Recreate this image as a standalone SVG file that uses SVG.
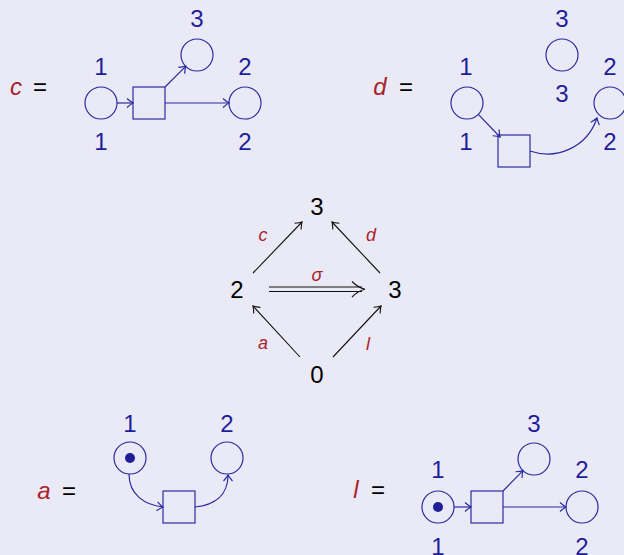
<svg xmlns="http://www.w3.org/2000/svg" width="624" height="555" viewBox="0 0 624 555">
<defs>
<style>
.bg{fill:#EAEAF6}
.pl{fill:none;stroke:#2A2AA0;stroke-width:1.2}
.tr{fill:none;stroke:#2A2AA0;stroke-width:1.2}
.tok{fill:#1E1E96}
.arc{fill:none;stroke:#2A2AA0;stroke-width:1.2}
.blk{fill:none;stroke:#111;stroke-width:1.1}
.num{font-family:"Liberation Sans",Arial,sans-serif;font-size:24px;fill:#1E1E9A;text-anchor:middle}
.big{font-family:"Liberation Sans",Arial,sans-serif;font-size:24px;fill:#000;text-anchor:middle}
.var{font-family:"Liberation Sans",Arial,sans-serif;font-size:24px;font-style:italic;fill:#A8232A;text-anchor:middle}
.eq{font-family:"Liberation Sans",Arial,sans-serif;font-size:24px;fill:#000;text-anchor:middle}
.sm{font-family:"Liberation Sans",Arial,sans-serif;font-size:18px;font-style:italic;fill:#A8232A;text-anchor:middle}
</style>
<marker id="ab" markerUnits="userSpaceOnUse" markerWidth="16" markerHeight="16" viewBox="-8 -8 16 16" refX="0" refY="0" orient="auto">
<path d="M-6,-4.5 Q-2,-1 0,0 Q-2,1 -6,4.5" fill="none" stroke="#2A2AA0" stroke-width="1.2"/>
</marker>
<marker id="ak" markerUnits="userSpaceOnUse" markerWidth="16" markerHeight="16" viewBox="-8 -8 16 16" refX="0" refY="0" orient="auto">
<path d="M-6,-4.5 Q-2,-1 0,0 Q-2,1 -6,4.5" fill="none" stroke="#111" stroke-width="1.1"/>
</marker>
</defs>
<rect class="bg" x="0" y="0" width="624" height="555"/>

<!-- c -->
<g id="net-c">
<text class="var" x="16" y="95">c</text>
<text class="eq" x="40" y="95">=</text>
<g id="c-p1"><circle class="pl" cx="101" cy="103" r="16"/><text class="num" x="101" y="75">1</text><text class="num" x="101" y="150">1</text></g>
<g id="c-t"><rect class="tr" x="133" y="87" width="32" height="32"/></g>
<g id="c-p3"><circle class="pl" cx="197" cy="55" r="16"/><text class="num" x="197" y="27">3</text></g>
<g id="c-p2"><circle class="pl" cx="245" cy="103" r="16"/><text class="num" x="245" y="75">2</text><text class="num" x="245" y="150">2</text></g>
<g id="c-arcs">
<line class="arc" x1="117" y1="103" x2="133" y2="103" marker-end="url(#ab)"/>
<line class="arc" x1="165" y1="87" x2="185.7" y2="66.3" marker-end="url(#ab)"/>
<line class="arc" x1="165" y1="103" x2="229" y2="103" marker-end="url(#ab)"/>
</g>
</g>

<!-- d -->
<g id="net-d">
<text class="var" x="380" y="95">d</text>
<text class="eq" x="406" y="95">=</text>
<g id="d-p1"><circle class="pl" cx="467" cy="103" r="16"/><text class="num" x="466" y="75">1</text><text class="num" x="466" y="150">1</text></g>
<g id="d-t"><rect class="tr" x="498" y="135" width="32" height="32"/></g>
<g id="d-p3"><circle class="pl" cx="562" cy="55" r="16"/><text class="num" x="562" y="27">3</text><text class="num" x="562" y="102">3</text></g>
<g id="d-p2"><circle class="pl" cx="610" cy="103" r="16"/><text class="num" x="610" y="75">2</text><text class="num" x="610" y="150">2</text></g>
<g id="d-arcs">
<line class="arc" x1="478.3" y1="114.3" x2="500" y2="137" marker-end="url(#ab)"/>
<path class="arc" d="M530,151 C556,160 587,148 597,118" marker-end="url(#ab)"/>
</g>
</g>

<!-- middle diamond -->
<g id="n-top"><text class="big" x="317" y="215">3</text></g>
<g id="n-left"><text class="big" x="237" y="298">2</text></g>
<g id="n-right"><text class="big" x="395" y="298">3</text></g>
<g id="n-bottom"><text class="big" x="317" y="383">0</text></g>
<g id="diamond-edges">
<line class="blk" x1="253" y1="273" x2="302" y2="222" marker-end="url(#ak)"/>
<line class="blk" x1="380" y1="273" x2="332" y2="222" marker-end="url(#ak)"/>
<line class="blk" x1="300" y1="357" x2="253" y2="306" marker-end="url(#ak)"/>
<line class="blk" x1="333" y1="357" x2="381" y2="306" marker-end="url(#ak)"/>
<line class="blk" x1="269" y1="287" x2="362" y2="287"/>
<line class="blk" x1="269" y1="291.5" x2="362" y2="291.5"/>
<path class="blk" d="M352,281.5 Q358,287.5 365,289.25 Q358,291 352,297"/>
<text class="sm" x="263" y="241">c</text>
<text class="sm" x="371" y="241">d</text>
<text class="sm" x="317" y="281" font-family="DejaVu Sans, sans-serif" font-size="17px">σ</text>
<text class="sm" x="263" y="349">a</text>
<text class="sm" x="368" y="350">l</text>
</g>

<!-- a -->
<g id="net-a">
<text class="var" x="44" y="499">a</text>
<text class="eq" x="69" y="499">=</text>
<g id="a-p1"><circle class="pl" cx="130" cy="458" r="16"/><circle class="tok" cx="130" cy="458" r="5"/><text class="num" x="130" y="432">1</text></g>
<g id="a-t"><rect class="tr" x="163" y="491" width="32" height="32"/></g>
<g id="a-p2"><circle class="pl" cx="227" cy="458" r="16"/><text class="num" x="227" y="432">2</text></g>
<g id="a-arcs">
<path class="arc" d="M129,474 C129,495 145,505 163,507" marker-end="url(#ab)"/>
<path class="arc" d="M195,507 C215,505 228,495 228,475" marker-end="url(#ab)"/>
</g>
</g>

<!-- l -->
<g id="net-l">
<text class="var" x="356" y="498">l</text>
<text class="eq" x="378" y="498">=</text>
<g id="l-p1"><circle class="pl" cx="438" cy="507" r="16"/><circle class="tok" cx="438" cy="507" r="5"/><text class="num" x="438" y="478">1</text><text class="num" x="438" y="555">1</text></g>
<g id="l-t"><rect class="tr" x="471" y="491" width="32" height="32"/></g>
<g id="l-p3"><circle class="pl" cx="534" cy="459" r="16"/><text class="num" x="534" y="432">3</text></g>
<g id="l-p2"><circle class="pl" cx="582" cy="507" r="16"/><text class="num" x="582" y="478">2</text><text class="num" x="582" y="555">2</text></g>
<g id="l-arcs">
<line class="arc" x1="454" y1="507" x2="471" y2="507" marker-end="url(#ab)"/>
<line class="arc" x1="503" y1="491" x2="523" y2="470.6" marker-end="url(#ab)"/>
<line class="arc" x1="503" y1="507" x2="566" y2="507" marker-end="url(#ab)"/>
</g>
</g>
</svg>
